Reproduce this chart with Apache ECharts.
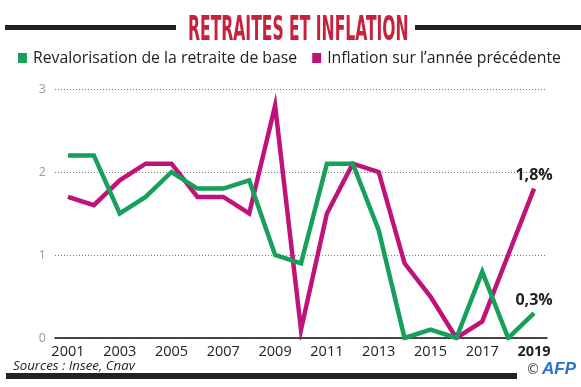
<!DOCTYPE html>
<html>
<head>
<meta charset="utf-8">
<script src="https://cdn.jsdelivr.net/npm/echarts@6/dist/echarts.min.js"></script>
<style>html,body{margin:0;padding:0;background:#fff}#c{width:581px;height:387px}</style>
</head>
<body>
<div id="c"></div>
<script>
const years = ['2001','2002','2003','2004','2005','2006','2007','2008','2009','2010','2011','2012','2013','2014','2015','2016','2017','2018','2019'];
const revalorisation = [2.2,2.2,1.5,1.7,2.0,1.8,1.8,1.9,1.0,0.9,2.1,2.1,1.3,0,0.1,0,0.8,0,0.3];
const inflation = [1.7,1.6,1.9,2.1,2.1,1.7,1.7,1.5,2.8,0.1,1.5,2.1,2.0,0.9,0.5,0,0.2,1.0,1.8];
const seriesNames = ['Revalorisation de la retraite de base','Inflation sur l\u2019année précédente'];
const title = 'RETRAITES ET INFLATION';
const source = 'Sources : Insee, Cnav';

const GREEN = '#17a05a';
const MAGENTA = '#c0137a';
const last = years.length - 1;

function withEndLabel(arr){
  return arr.map((v,i)=> i===last ? {value:v, label:{show:true, position:'top', distance:5,
    formatter: (v.toFixed(1).replace('.',',')+'%'), fontFamily:'Open Sans', fontWeight:'bold', fontSize:16, color:'#222'}} : v);
}

const chart = echarts.init(document.getElementById('c'), null, {renderer:'canvas'});
chart.setOption({
  animation:false,
  grid:{left:55, right:34, top:89, bottom:49, containLabel:false},
  legend:{
    left:18, top:50, width:570, padding:0, icon:'rect', itemWidth:9, itemHeight:10, itemGap:15,
    textStyle:{fontFamily:'Open Sans', fontSize:15.8, color:'#222', padding:[0,0,0,1]},
    data:seriesNames
  },
  xAxis:{
    type:'category', data:years, boundaryGap:true,
    axisLine:{lineStyle:{color:'#111', width:1.5}},
    axisTick:{show:false},
    axisLabel:{interval:1, margin:6, fontFamily:'Open Sans', fontSize:14.5, color:'#222',
      formatter:(v)=> v==='2019' ? '{b|'+v+'}' : v,
      rich:{b:{fontWeight:'bold', fontFamily:'Open Sans', fontSize:14.5, color:'#222'}}}
  },
  yAxis:{
    type:'value', min:0, max:3, interval:1,
    axisLine:{show:false}, axisTick:{show:false},
    axisLabel:{margin:9, fontFamily:'Open Sans', fontSize:12.5, color:'#9a9a9a', verticalAlign:'middle', padding:[0,0,10,0]},
    splitLine:{show:true, lineStyle:{type:[1,2], color:'#777', width:1}}
  },
  series:[
    {name:seriesNames[0], type:'line', data:withEndLabel(revalorisation), symbol:'circle', symbolSize:0, showSymbol:true,
      lineStyle:{color:GREEN, width:4.5, join:'miter'}, itemStyle:{color:GREEN}, z:3},
    {name:seriesNames[1], type:'line', data:withEndLabel(inflation), symbol:'circle', symbolSize:0, showSymbol:true,
      lineStyle:{color:MAGENTA, width:4.5, join:'miter'}, itemStyle:{color:MAGENTA}, z:2}
  ],
  graphic:[
    {type:'rect', shape:{x:5, y:25, width:171, height:5}, style:{fill:'#222'}},
    {type:'rect', shape:{x:415, y:25, width:166, height:5}, style:{fill:'#222'}},
    {type:'text', x:188, y:14, scaleX:0.525, scaleY:1.03, style:{text:title, fontFamily:'DejaVu Sans Condensed', fontWeight:'bold', fontSize:33, fill:'#c8213c', textVerticalAlign:'top'}},
    {type:'text', x:13, y:360, style:{text:source, fontFamily:'Open Sans', fontStyle:'italic', fontSize:13.3, fill:'#222'}},
    {type:'rect', shape:{x:6, y:373, width:511, height:6}, style:{fill:'#222'}},
    {type:'text', x:526, y:363, style:{text:'\u00a9', fontFamily:'DejaVu Sans', fontSize:14, fill:'#444'}},
    {type:'text', x:542, y:361, style:{text:'AFP', fontFamily:'Liberation Sans', fontStyle:'italic', fontWeight:'bold', fontSize:17, fill:'#2f6fd6'}}
  ]
});
</script>
</body>
</html>
